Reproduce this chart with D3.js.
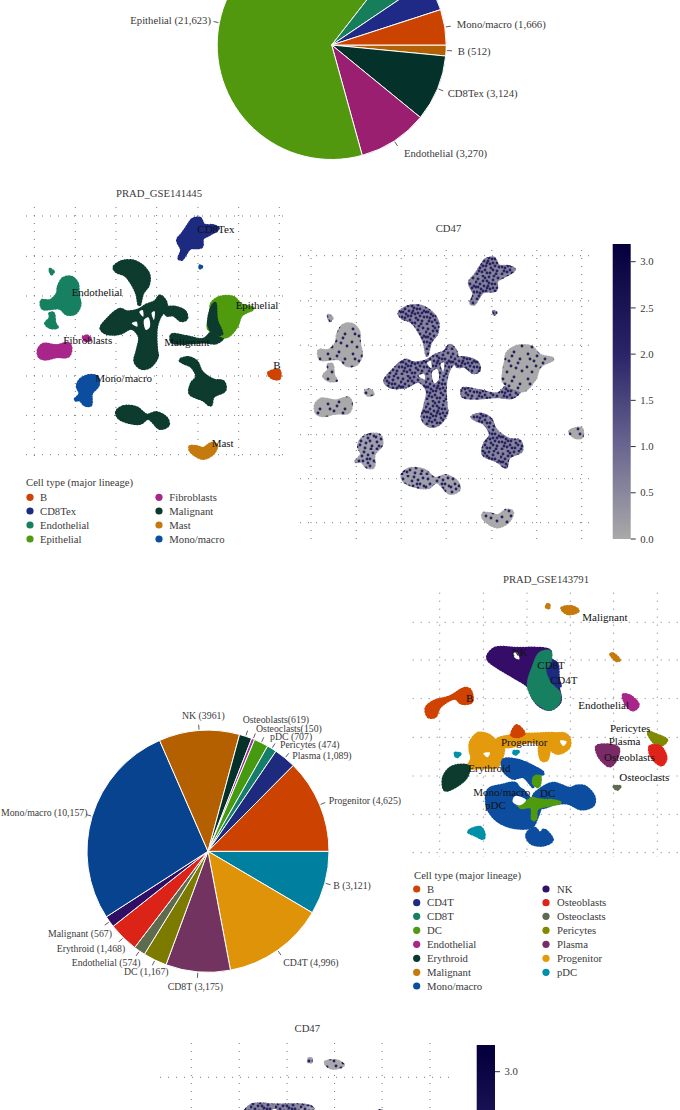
<!DOCTYPE html>
<html>
<head>
<meta charset="utf-8">
<script src="https://cdn.jsdelivr.net/npm/d3@7"></script>
<style>
	html, body { margin: 0; padding: 0; background: #fff; overflow: hidden; }
	text { font-family: "Liberation Serif", serif; }
	.lab { font-size: 10.7px; fill: #3a3a3a; }
	.cluster { font-size: 11px; fill: #111; }
</style>
</head>
<body>
<svg id="chart" width="680" height="1110"></svg>
<script>
// Pie values, clockwise from 3 o'clock
var pie1Values = [512, 3124, 3270, 21623, 1677, 1483, 1666];
var pie1Labels = ["B (512)", "CD8Tex (3,124)", "Endothelial (3,270)", "Epithelial (21,623)", null, null, "Mono/macro (1,666)"];
var pie1Colors = ["#b26205", "#04322a", "#9b1f70", "#51980f", "#177e5c", "#1e2a85", "#cb4300"];
var pie1Anchors = [[457.7, 55, "start"], [447.7, 97, "start"], [404, 156.7, "start"], [211, 24, "end"], null, null, [456.7, 28.3, "start"]];

var pie2Values = [3121, 4996, 3175, 1167, 574, 1468, 567, 10157, 3961, 619, 150, 707, 474, 1089, 4625];
var pie2Labels = ["B (3,121)", "CD4T (4,996)", "CD8T (3,175)", "DC (1,167)", "Endothelial (574)", "Erythroid (1,468)", "Malignant (567)", "Mono/macro (10,157)", "NK (3961)", "Osteoblasts(619)", "Osteoclasts(150)", "pDC (707)", "Pericytes (474)", "Plasma (1,089)", "Progenitor (4,625)"];
var pie2Colors = ["#007f9f", "#df9309", "#733360", "#7c7b00", "#5f6b4f", "#dc2318", "#2f0f66", "#07438e", "#b46000", "#04322a", "#9b2a9b", "#459a10", "#157e68", "#1d2a7e", "#cc4200"];
var pie2Anchors = [[333.3, 889.3, "start"], [283.3, 966, "start"], [167.7, 990, "start"], [124, 975.3, "start"], [71.7, 965.7, "start"], [56.7, 951.7, "start"], [48, 936.7, "start"], [1, 816, "start"], [182, 718.7, "start"], [242.7, 722.7, "start"], [256, 731.7, "start"], [270, 740, "start"], [280, 747.7, "start"], [292.3, 758.7, "start"], [328.7, 804.3, "start"]];

// Legends
var legend1Types = ["B", "CD8Tex", "Endothelial", "Epithelial", "Fibroblasts", "Malignant", "Mast", "Mono/macro"];
var legend1Colors = ["#cf4306", "#1f2a80", "#178060", "#4f9a10", "#a8278a", "#0a3a2e", "#c57a10", "#0a4ea0"];
var legend2Types = ["B", "CD4T", "CD8T", "DC", "Endothelial", "Erythroid", "Malignant", "Mono/macro", "NK", "Osteoblasts", "Osteoclasts", "Pericytes", "Plasma", "Progenitor", "pDC"];
var legend2Colors = ["#cf4306", "#1f2a80", "#178060", "#4f9a10", "#a8278a", "#0a3a2e", "#c57a10", "#0a4ea0", "#341068", "#e0231a", "#5f6b50", "#7f8a00", "#7a2a66", "#e39a0a", "#0090a8"];

// UMAP grid, in embedding units
var umap1GridX = [103, 226, 348, 470, 594, 716, 838];
var umap1GridY = [108, 229, 348, 467, 588, 706, 824];
var umap2GridX = [119, 250, 381, 511, 641, 772];
var umap2GridY = [157, 270, 386, 502, 618, 733, 848];

// Cluster outlines GSE141445: [type, expression level 0-2, outline]
var umap1Clusters = [
	["CD8Tex", 2, [[578,118],[600,115],[612,135],[640,137],[655,145],[625,165],[608,175],[605,200],[570,205],[555,225],[545,238],[537,235],[545,210],[533,180],[548,160],[565,135]]],
	["Mono/macro", 1, [[240,600],[265,587],[290,590],[295,615],[275,640],[272,675],[255,675],[240,660],[225,660],[240,640],[232,620]]],
	["Malignant", 2, [[342,262],[365,245],[400,243],[430,260],[447,285],[445,315],[428,340],[418,375],[410,340],[395,310],[375,285],[350,275]]],
	["Malignant", 2, [[480,348],[497,365],[498,385],[480,410],[470,440],[468,470],[470,510],[472,530],[450,560],[425,565],[405,545],[412,510],[418,470],[395,445],[360,460],[320,460],[303,445],[320,420],[360,388],[380,395],[415,390],[440,375],[465,365]]],
	["Malignant", 2, [[495,385],[525,382],[555,395],[560,415],[545,422],[520,405],[500,405]]],
	["Malignant", 2, [[515,465],[560,470],[610,478],[640,455],[670,470],[650,488],[610,486],[550,490],[515,485]]],
	["Malignant", 2, [[540,540],[565,533],[590,545],[605,575],[640,600],[670,605],[675,630],[640,650],[632,675],[610,660],[570,640],[575,610],[590,590],[575,560],[550,548]]],
	["Malignant", 1, [[350,695],[370,680],[410,683],[440,705],[470,698],[500,715],[505,735],[480,745],[445,715],[420,730],[380,725],[355,712]]],
	["Epithelial", 0, [[635,370],[660,352],[700,352],[725,375],[760,385],[725,405],[710,440],[680,470],[650,460],[625,445],[632,400]]],
	["Malignant", 0, [[634,385],[645,370],[650,420],[665,462],[640,458],[626,435]]],
	["Mast", 0, [[570,800],[590,800],[610,805],[635,790],[650,795],[640,820],[610,835],[585,825],[570,810]]],
	["B", 0, [[805,580],[820,572],[838,572],[838,595],[820,595]]],
	["Fibroblasts", 0, [[115,510],[130,493],[170,497],[205,490],[213,505],[205,528],[170,530],[135,537],[118,530]]],
	["Fibroblasts", 0, [[250,472],[262,468],[272,478],[258,482]]],
	["Endothelial", 0, [[175,320],[190,295],[215,292],[232,310],[235,345],[240,375],[225,400],[200,402],[180,385],[128,385],[125,362],[150,362],[172,340]]],
	["Endothelial", 0, [[150,400],[160,400],[165,430],[172,442],[150,442],[137,430],[150,415]]],
	["Endothelial", 1, [[150,268],[160,275],[155,282]]],
	["Mono/macro", 2, [[598,258],[605,260],[602,265]]]
];
var umap1Gaps = [[[432,420],[445,412],[450,440],[438,450]], [[418,395],[428,390],[430,410]], [[455,398],[464,394],[462,420]], [[395,430],[410,425],[412,440]]];
var umap1Names = ["CD8Tex", "Endothelial", "Epithelial", "Fibroblasts", "Malignant", "Mono/macro", "B", "Mast"];
var umap1NameAt = [[592,158], [215,347], [707,387], [190,491], [493,497], [286,606], [820,567], [635,800]];

// Cluster outlines GSE143791
var umap2Clusters = [
	["Malignant", 0, [[485,115],[515,110],[535,122],[520,130],[500,130]]],
	["Malignant", 1, [[440,105],[447,105],[447,113],[440,113]]],
	["Malignant", 0, [[632,252],[640,252],[658,270],[650,272]]],
	["NK", 2, [[263,258],[285,235],[345,235],[450,243],[450,270],[470,300],[475,350],[480,395],[450,418],[420,408],[400,385],[385,350],[340,320],[290,290],[265,270]]],
	["CD4T", 2, [[440,270],[470,280],[475,325],[480,350],[455,340],[435,300]]],
	["CD8T", 1, [[400,290],[420,250],[450,245],[450,275],[435,300],[450,340],[478,370],[475,400],[450,418],[420,405],[400,385],[385,345]]],
	["B", 0, [[78,415],[100,395],[150,380],[195,355],[210,360],[215,395],[185,400],[165,385],[120,410],[105,440],[85,440]]],
	["Progenitor", 1, [[212,515],[235,490],[265,495],[290,515],[310,525],[305,565],[290,590],[250,592],[205,592],[215,565],[210,540]]],
	["Progenitor", 1, [[290,510],[345,495],[400,492],[480,495],[490,515],[440,525],[390,515],[320,530]]],
	["Progenitor", 1, [[450,505],[485,490],[505,500],[508,530],[475,550],[450,535]]],
	["Progenitor", 1, [[420,525],[445,530],[440,570],[425,570]]],
	["B", 0, [[335,495],[350,467],[372,490],[355,500]]],
	["Erythroid", 1, [[130,625],[150,595],[185,585],[205,590],[200,620],[165,650],[135,660]]],
	["Mono/macro", 1, [[310,570],[350,570],[400,590],[430,610],[395,620],[400,650],[370,620],[340,625],[310,600]]],
	["Mono/macro", 1, [[265,660],[310,645],[345,640],[385,680],[400,700],[420,705],[410,745],[395,770],[340,772],[290,750],[262,710]]],
	["Mono/macro", 1, [[400,680],[425,655],[460,640],[510,655],[530,648],[555,650],[582,680],[580,705],[545,717],[505,700],[470,700],[420,712]]],
	["Mono/macro", 1, [[385,785],[405,775],[420,790],[432,780],[457,810],[430,825],[395,820],[380,800]]],
	["DC", 1, [[395,685],[420,690],[460,692],[480,698],[445,706],[412,716],[406,748],[398,748],[394,712],[362,712],[352,698],[385,692]]],
	["DC", 1, [[405,620],[420,620],[415,650],[400,640]]],
	["pDC", 0, [[205,785],[240,772],[252,790],[250,805],[225,795]]],
	["pDC", 0, [[165,550],[180,552],[170,560]]],
	["pDC", 0, [[340,545],[355,545],[345,553]]],
	["Endothelial", 1, [[670,375],[690,378],[715,405],[700,420],[680,405]]],
	["Pericytes", 0, [[745,487],[770,495],[800,510],[785,525],[765,520]]],
	["Osteoblasts", 0, [[750,530],[780,530],[798,565],[785,585],[755,560]]],
	["Plasma", 1, [[590,530],[625,525],[655,535],[650,565],[630,588],[610,575],[595,555]]],
	["Osteoclasts", 0, [[642,650],[660,650],[652,658]]]
];
var umap2Gaps = [[[340,250],[352,248],[358,268],[345,264]], [[345,678],[378,690],[360,706],[338,695]], [[480,512],[500,515],[490,528]], [[250,550],[270,548],[262,562]], [[350,628],[370,632],[385,660],[360,650]]];
var umap2Names = ["Malignant", "NK", "CD8T", "CD4T", "B", "Endothelial", "Pericytes", "Plasma", "Progenitor", "Osteoblasts", "Erythroid", "Osteoclasts", "Mono/macro", "DC", "pDC"];
var umap2NameAt = [[547,152], [335,258], [412,298], [450,343], [198,395], [535,416], [630,486], [626,526], [303,527], [612,574], [205,605], [658,632], [220,678], [420,680], [255,718]];

var cd47Ticks = [0, 0.5, 1, 1.5, 2, 2.5, 3];
var cd47TicksCut = [3];

// Speckle tile for the expression maps, hand placed dots
var speckleDots = [[3,4],[14,2],[9,11],[20,9],[2,17],[16,18],[7,22],[22,21],[12,6],[18,13],[5,9],[11,16],
	[23,3],[1,12],[15,23],[8,1],[20,16],[4,21],[13,11],[24,11],[6,14],[18,5],[10,20],[21,24],[17,9],[2,24],[12,23],[24,17],[8,6],[15,14],
	[19,1],[1,7],[10,3],[5,18],[14,8],[22,13],[18,20],[8,16],[12,13],[3,12]];
var speckleCounts = [12, 26, 40];
var speckleGrounds = ["#a9a9a9", "#a0a0aa", "#85849c"];

var svg = d3.select("#chart");
var defs = svg.append("defs");

defs.append("filter")
	.attr("id", "soft")
	.append("feGaussianBlur")
	.attr("stdDeviation", 0.45);

var exprColor = d3.scaleLinear()
	.domain([0, 1, 2, 3.2])
	.range(["#a9a9a9", "#6a6690", "#2b2468", "#05003c"]);

speckleCounts.forEach(function(n, i) {
	var p = defs.append("pattern")
		.attr("id", "speckle" + i)
		.attr("patternUnits", "userSpaceOnUse")
		.attr("width", 25)
		.attr("height", 25);
	p.append("rect").attr("width", 25).attr("height", 25).attr("fill", speckleGrounds[i]);
	p.selectAll("circle")
		.data(speckleDots.slice(0, n))
		.join("circle")
		.attr("cx", function(d) { return d[0]; })
		.attr("cy", function(d) { return d[1]; })
		.attr("r", 1.45)
		.attr("fill", "#262061");
});

var blob = d3.line().curve(d3.curveCatmullRomClosed.alpha(0.5));

function drawPie(values, labels, colors, anchors, cx, cy, r, fontSize) {
	var g = svg.append("g").attr("transform", "translate(" + cx + "," + cy + ")");
	var arcs = d3.pie().sort(null)
		.startAngle(Math.PI / 2)
		.endAngle(Math.PI * 2.5)(values);
	var arc = d3.arc().innerRadius(0).outerRadius(r);

	g.selectAll("path.slice")
		.data(arcs)
		.join("path")
		.attr("class", "slice")
		.attr("d", arc)
		.attr("fill", function(d, i) { return colors[i]; })
		.attr("stroke", "#fff")
		.attr("stroke-width", 1);

	arcs.forEach(function(d, i) {
		if (!labels[i]) return;
		var mid = (d.startAngle + d.endAngle) / 2;
		var sx = Math.sin(mid), sy = -Math.cos(mid);
		g.append("line")
			.attr("x1", sx * (r + 1)).attr("y1", sy * (r + 1))
			.attr("x2", sx * (r + 6)).attr("y2", sy * (r + 6))
			.attr("stroke", "#333")
			.attr("stroke-width", 0.8);
		svg.append("text")
			.attr("class", "lab")
			.style("font-size", fontSize + "px")
			.attr("x", anchors[i][0])
			.attr("y", anchors[i][1])
			.attr("text-anchor", anchors[i][2])
			.text(labels[i]);
	});
}

function drawGrid(gridX, gridY, x, y, left, right, top, bottom) {
	var g = svg.append("g")
		.attr("stroke", "#777")
		.attr("stroke-width", 1)
		.attr("stroke-dasharray", "1 7");
	g.selectAll("line.gx")
		.data(gridX)
		.join("line")
		.attr("class", "gx")
		.attr("x1", x).attr("x2", x)
		.attr("y1", top).attr("y2", bottom);
	g.selectAll("line.gy")
		.data(gridY)
		.join("line")
		.attr("class", "gy")
		.attr("y1", y).attr("y2", y)
		.attr("x1", left).attr("x2", right);
}

function drawClusters(clusters, gaps, x, y, fill) {
	var outline = function(points) {
		return blob(points.map(function(p) { return [x(p[0]), y(p[1])]; }));
	};
	var g = svg.append("g").attr("filter", "url(#soft)");
	g.selectAll("path.mass")
		.data(clusters)
		.join("path")
		.attr("class", "mass")
		.attr("d", function(d) { return outline(d[2]); })
		.attr("fill", fill)
		.attr("stroke", fill)
		.attr("stroke-width", 3.2)
		.attr("stroke-linejoin", "round")
		.attr("stroke-linecap", "round")
		.attr("stroke-dasharray", "0.6 2.2");
	g.selectAll("path.gap")
		.data(gaps)
		.join("path")
		.attr("class", "gap")
		.attr("d", outline)
		.attr("fill", "#fff");
}

function drawNames(names, at, x, y) {
	names.forEach(function(name, i) {
		svg.append("text")
			.attr("class", "cluster")
			.attr("x", x(at[i][0]))
			.attr("y", y(at[i][1]))
			.text(name);
	});
}

function drawLegend(types, colors, perCol, titleX, titleY, cols, rowY) {
	svg.append("text").attr("class", "lab").attr("x", titleX).attr("y", titleY).text("Cell type (major lineage)");
	types.forEach(function(t, i) {
		var col = i < perCol ? 0 : 1;
		var row = i < perCol ? i : i - perCol;
		svg.append("circle")
			.attr("cx", cols[col][0]).attr("cy", rowY[row])
			.attr("r", 3.6)
			.attr("fill", colors[i]);
		svg.append("text")
			.attr("class", "lab")
			.attr("x", cols[col][1]).attr("y", rowY[row] + 3.6)
			.text(t);
	});
}

function drawColorbar(id, left, width, top, scale, ticks) {
	var grad = defs.append("linearGradient")
		.attr("id", id)
		.attr("x1", 0).attr("x2", 0).attr("y1", 1).attr("y2", 0);
	exprColor.domain().forEach(function(v) {
		grad.append("stop")
			.attr("offset", (scale(0) - scale(v)) / (scale(0) - top))
			.attr("stop-color", exprColor(v));
	});
	svg.append("rect")
		.attr("x", left).attr("y", top)
		.attr("width", width).attr("height", scale(0) - top)
		.attr("fill", "url(#" + id + ")");
	ticks.forEach(function(t) {
		svg.append("line")
			.attr("x1", left + width).attr("x2", left + width + 5)
			.attr("y1", scale(t)).attr("y2", scale(t))
			.attr("stroke", "#333");
		svg.append("text")
			.attr("class", "lab")
			.attr("x", left + width + 9.5)
			.attr("y", scale(t) + 3.6)
			.text(t.toFixed(1));
	});
}

function title(text, x, y) {
	svg.append("text").attr("class", "lab")
		.attr("x", x).attr("y", y)
		.attr("text-anchor", "middle")
		.text(text);
}

function typeFill(types, colors) {
	var c = d3.scaleOrdinal().domain(types).range(colors);
	return function(d) { return c(d[0]); };
}
function speckleFill(d) { return "url(#speckle" + d[1] + ")"; }

// Top pie
drawPie(pie1Values, pie1Labels, pie1Colors, pie1Anchors, 331.7, 45, 114.5, 10.7);

// GSE141445 lineage map
var x1 = d3.scaleLinear().domain([103, 838]).range([34.3, 279.3]);
var y1 = d3.scaleLinear().domain([108, 824]).range([216, 454.7]);
title("PRAD_GSE141445", 159, 197);
drawGrid(umap1GridX, umap1GridY, x1, y1, 26, 290, 207, 463);
drawClusters(umap1Clusters, umap1Gaps, x1, y1, typeFill(legend1Types, legend1Colors));
drawNames(umap1Names, umap1NameAt, x1, y1);
drawLegend(legend1Types, legend1Colors, 4, 26, 486, [[30, 40], [159, 169.3]], [497.3, 511, 525, 539]);

// GSE141445 CD47 map
var x2 = d3.scaleLinear().domain([103, 838]).range([311, 581.7]);
var y2 = d3.scaleLinear().domain([108, 824]).range([255.7, 522.7]);
title("CD47", 448.5, 232);
drawGrid(umap1GridX, umap1GridY, x2, y2, 300, 592, 250, 542);
drawClusters(umap1Clusters, umap1Gaps, x2, y2, speckleFill);
drawColorbar("cbar1", 612.7, 18, 244, d3.scaleLinear().domain([0, 3]).range([539, 261.7]), cd47Ticks);

// Second pie
drawPie(pie2Values, pie2Labels, pie2Colors, pie2Anchors, 208, 851.3, 121, 9.8);

// GSE143791 lineage map
var x3 = d3.scaleLinear().domain([119, 772]).range([439.7, 657.3]);
var y3 = d3.scaleLinear().domain([157, 848]).range([622.3, 852.7]);
title("PRAD_GSE143791", 546, 583.3);
drawGrid(umap2GridX, umap2GridY, x3, y3, 412.7, 679.3, 592.7, 857);
drawClusters(umap2Clusters, umap2Gaps, x3, y3, typeFill(legend2Types, legend2Colors));
drawNames(umap2Names, umap2NameAt, x3, y3);
drawLegend(legend2Types, legend2Colors, 8, 414, 878.7, [[416.7, 427], [546, 557]], [889, 902.7, 916.3, 930.3, 944.3, 958.3, 972.3, 986]);

// GSE143791 CD47 map, runs off the page
var x4 = d3.scaleLinear().domain([119, 772]).range([191.3, 430]);
var y4 = d3.scaleLinear().domain([157, 848]).range([1077.3, 1321.2]);
title("CD47", 307.3, 1031.7);
drawGrid(umap2GridX, umap2GridY, x4, y4, 160, 452, 1043, 1330);
drawClusters(umap2Clusters, umap2Gaps, x4, y4, speckleFill);
drawColorbar("cbar2", 476.7, 18.3, 1045, d3.scaleLinear().domain([0, 3]).range([1372, 1071.7]), cd47TicksCut);
</script>
</body>
</html>
